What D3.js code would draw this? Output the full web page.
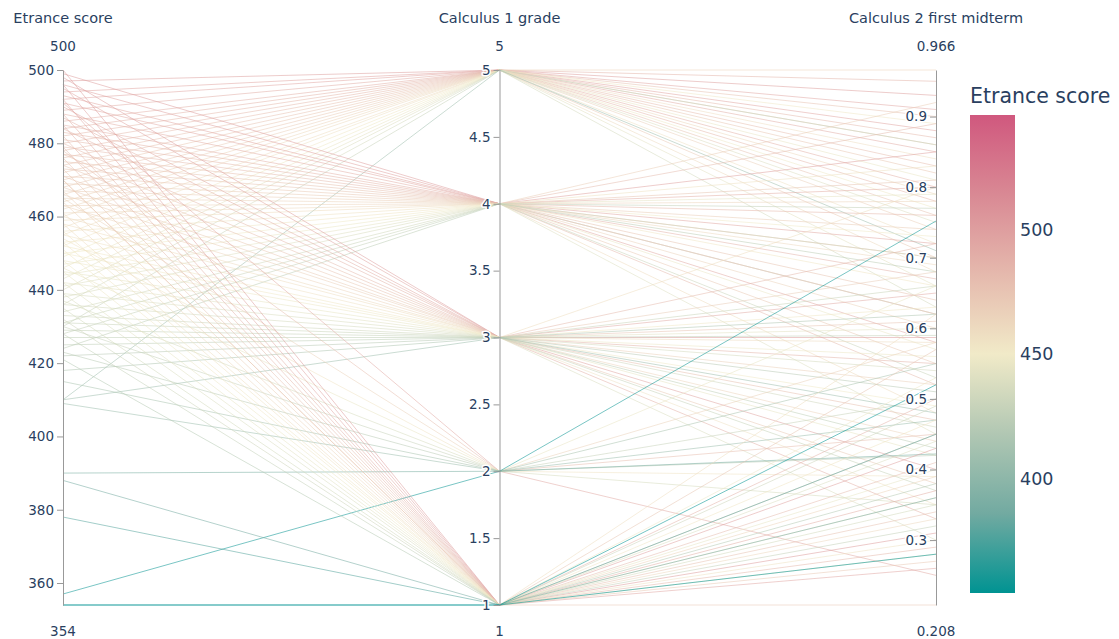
<!DOCTYPE html>
<html>
<head>
<meta charset="utf-8">
<script src="https://cdn.jsdelivr.net/npm/d3@7/dist/d3.min.js"></script>
<style>
  html, body { margin: 0; padding: 0; background: #fff; }
  svg text { font-family: "DejaVu Sans", Verdana, sans-serif; }
</style>
</head>
<body>
<svg id="chart" width="1119" height="639"></svg>
<script>
// Students: entrance score, Calculus 1 grade, Calculus 2 first midterm
const entranceScore = [
  497, 494, 492, 489, 486, 484, 482, 480, 478, 476, 474, 472, 470, 468, 466, 464, 462, 460, 457, 455, 452, 449, 446, 443, 440, 436, 430, 410,
  499, 496, 493, 491, 488, 485, 483, 481, 479, 477, 475, 473, 471, 469, 467, 465, 463, 461, 459, 456, 453, 450, 447, 444, 441, 438, 434, 431, 428, 424,
  498, 495, 490, 487, 484, 480, 477, 474, 471, 468, 466, 463, 460, 458, 455, 452, 450, 448, 445, 442, 439, 436, 433, 431, 429, 427, 425, 422, 418, 410,
  491, 478, 465, 454, 446, 437, 430, 423, 415, 409, 390, 357,
  500, 496, 492, 488, 485, 482, 479, 476, 473, 470, 467, 464, 461, 458, 456, 453, 451, 448, 445, 442, 439, 435, 432, 428, 421, 470, 388, 378, 354, 354
];
const calculus1Grade = [
  5, 5, 5, 5, 5, 5, 5, 5, 5, 5, 5, 5, 5, 5, 5, 5, 5, 5, 5, 5, 5, 5, 5, 5, 5, 5, 5, 5,
  4, 4, 4, 4, 4, 4, 4, 4, 4, 4, 4, 4, 4, 4, 4, 4, 4, 4, 4, 4, 4, 4, 4, 4, 4, 4, 4, 4, 4, 4,
  3, 3, 3, 3, 3, 3, 3, 3, 3, 3, 3, 3, 3, 3, 3, 3, 3, 3, 3, 3, 3, 3, 3, 3, 3, 3, 3, 3, 3, 3,
  2, 2, 2, 2, 2, 2, 2, 2, 2, 2, 2, 2,
  1, 1, 1, 1, 1, 1, 1, 1, 1, 1, 1, 1, 1, 1, 1, 1, 1, 1, 1, 1, 1, 1, 1, 1, 1, 1, 1, 1, 1, 1
];
const calculus2Midterm = [
  0.93, 0.88, 0.91, 0.85, 0.80, 0.95, 0.78, 0.87, 0.83, 0.90, 0.76, 0.82, 0.70, 0.86, 0.74, 0.966, 0.79, 0.68, 0.84, 0.72, 0.89, 0.77, 0.81, 0.66, 0.75, 0.63, 0.86, 0.71,
  0.62, 0.85, 0.72, 0.58, 0.80, 0.67, 0.76, 0.52, 0.89, 0.70, 0.64, 0.81, 0.55, 0.74, 0.92, 0.60, 0.78, 0.69, 0.48, 0.83, 0.66, 0.73, 0.57, 0.79, 0.45, 0.62, 0.70, 0.53, 0.77, 0.68,
  0.587, 0.40, 0.65, 0.33, 0.55, 0.72, 0.47, 0.61, 0.38, 0.68, 0.52, 0.44, 0.58, 0.80, 0.35, 0.63, 0.49, 0.56, 0.42, 0.60, 0.30, 0.54, 0.46, 0.66, 0.37, 0.59, 0.43, 0.51, 0.62, 0.48,
  0.25, 0.45, 0.58, 0.39, 0.66, 0.35, 0.50, 0.42, 0.55, 0.47, 0.422, 0.752,
  0.31, 0.43, 0.26, 0.37, 0.50, 0.29, 0.41, 0.34, 0.57, 0.27, 0.45, 0.39, 0.33, 0.62, 0.30, 0.47, 0.36, 0.53, 0.40, 0.28, 0.44, 0.35, 0.49, 0.32, 0.38, 0.208, 0.36, 0.45, 0.52, 0.28
];

const dimensionLabels = ["Etrance score", "Calculus 1 grade", "Calculus 2 first midterm"];
const dimensionTicks = [
  [360, 380, 400, 420, 440, 460, 480, 500],
  [1, 1.5, 2, 2.5, 3, 3.5, 4, 4.5, 5],
  [0.3, 0.4, 0.5, 0.6, 0.7, 0.8, 0.9]
];
const colorbarTicks = [400, 450, 500];
const colorRange = [354, 546];
const tealrose = ["#009392", "#72aaa1", "#b1c7b3", "#f1eac8", "#e5b9ad", "#d98994", "#d0587e"];

const textColor = "#2a3f5f";
const svg = d3.select("#chart");

const columns = [entranceScore, calculus1Grade, calculus2Midterm];
const axisX = d3.scalePoint().domain(d3.range(3)).range([63, 936]);
const plotTop = 70, plotBottom = 605;
const yScales = columns.map(col => d3.scaleLinear().domain(d3.extent(col)).range([plotBottom, plotTop]));

const color = d3.scaleLinear()
  .domain(tealrose.map((_, i) => colorRange[0] + i * (colorRange[1] - colorRange[0]) / (tealrose.length - 1)))
  .range(tealrose)
  .interpolate(d3.interpolateRgb);

const records = entranceScore.map((e, i) => [e, calculus1Grade[i], calculus2Midterm[i]]);

const line = d3.line()
  .x((d, k) => axisX(k))
  .y((d, k) => yScales[k](d));

svg.append("g")
  .attr("fill", "none")
  .selectAll("path")
  .data(records)
  .join("path")
  .attr("d", d => line(d))
  .attr("stroke", d => color(d[0]))
  .attr("stroke-width", 1)
  .attr("stroke-opacity", 0.55);

// axes
const fmt = [d3.format("d"), d3.format("~g"), d3.format("~g")];
const rangeFmt = [d3.format("d"), d3.format("d"), d3.format(".3~f")];
columns.forEach((col, k) => {
  const g = svg.append("g").attr("transform", `translate(${axisX(k)},0)`);
  const ax = d3.axisLeft(yScales[k]).tickValues(dimensionTicks[k]).tickFormat(fmt[k]).tickSize(6).tickSizeOuter(0);
  g.call(ax);
  g.select(".domain").attr("stroke", "#999").attr("stroke-width", 1);
  g.selectAll(".tick line").attr("stroke", "#999");
  g.selectAll(".tick text")
    .attr("fill", textColor)
    .attr("font-size", 13.5)
    .attr("font-family", "DejaVu Sans, Verdana, sans-serif")
    .attr("x", -9)
    .attr("paint-order", "stroke")
    .attr("stroke", "#fff")
    .attr("stroke-width", 3)
    .attr("stroke-linejoin", "round");

  g.append("text")
    .attr("y", 23).attr("text-anchor", "middle")
    .attr("fill", textColor).attr("font-size", 14.5)
    .text(dimensionLabels[k]);
  const [lo, hi] = yScales[k].domain();
  g.append("text")
    .attr("y", 51).attr("text-anchor", "middle")
    .attr("fill", textColor).attr("font-size", 13.5)
    .text(rangeFmt[k](hi));
  g.append("text")
    .attr("y", 636).attr("text-anchor", "middle")
    .attr("fill", textColor).attr("font-size", 13.5)
    .text(rangeFmt[k](lo));
});

// colorbar
const cb = { x: 970, y: 115, w: 45, h: 478 };
const defs = svg.append("defs");
const grad = defs.append("linearGradient")
  .attr("id", "cbgrad").attr("x1", 0).attr("y1", 1).attr("x2", 0).attr("y2", 0);
tealrose.forEach((c, i) => {
  grad.append("stop").attr("offset", i / (tealrose.length - 1)).attr("stop-color", c);
});
svg.append("rect")
  .attr("x", cb.x).attr("y", cb.y).attr("width", cb.w).attr("height", cb.h)
  .attr("fill", "url(#cbgrad)");
const cbScale = d3.scaleLinear().domain(colorRange).range([cb.y + cb.h, cb.y]);
svg.append("g")
  .selectAll("text")
  .data(colorbarTicks)
  .join("text")
  .attr("x", cb.x + cb.w + 5)
  .attr("y", d => cbScale(d))
  .attr("dy", "0.35em")
  .attr("fill", textColor)
  .attr("font-size", 17.5)
  .text(d => d);
svg.append("text")
  .attr("x", cb.x).attr("y", 103)
  .attr("fill", textColor).attr("font-size", 20.5)
  .text("Etrance score");
</script>
</body>
</html>
